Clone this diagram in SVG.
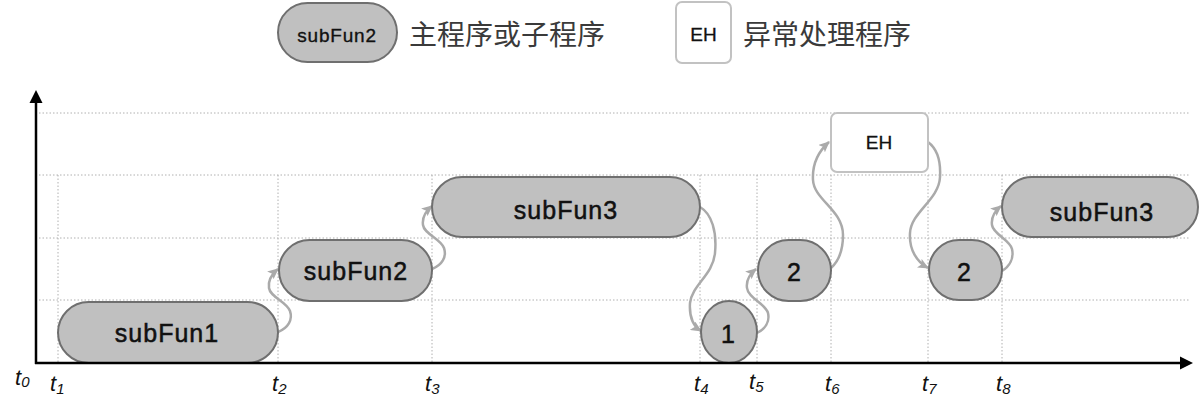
<svg xmlns="http://www.w3.org/2000/svg" width="1200" height="407" viewBox="0 0 1200 407">
<defs>
<style>
.grid{stroke:#b0b0b0;stroke-width:1;stroke-dasharray:1.5 2;fill:none}
.axis{stroke:#000;stroke-width:2.5;fill:none}
.node{fill:#c0c0c0;stroke:#6f6f6f;stroke-width:2}
.eh{fill:#fff;stroke:#c2c2c2;stroke-width:2}
.lbl{font-family:"Liberation Sans",Arial,sans-serif;font-size:25px;fill:#111;stroke:#111;stroke-width:0.5;text-anchor:middle;letter-spacing:1px}
.eht{font-family:"Liberation Sans",Arial,sans-serif;font-size:19px;fill:#111;stroke:#111;stroke-width:0.3;text-anchor:middle}
.cjk{font-family:"Noto Sans CJK SC","Noto Sans",sans-serif;font-size:28px;fill:#3a3a3a}
.t{font-family:"Liberation Sans",Arial,sans-serif;font-style:italic;font-size:22px;fill:#111}
.sub{font-size:15px}
.conn{stroke:#aaaaaa;stroke-width:2.5;fill:none;marker-end:url(#ah)}
</style>
<marker id="ah" markerWidth="12" markerHeight="10" refX="10" refY="5" orient="auto" markerUnits="userSpaceOnUse">
<path d="M0,0 L11,5 L0,10 L2.5,5 z" fill="#aaaaaa"/>
</marker>
</defs>

<g id="legend">
<g id="legend-main">
<rect class="node" x="278" y="3" width="119" height="59" rx="29.5"/>
<text class="lbl" x="337" y="42" style="font-size:19px;letter-spacing:0.8px;stroke-width:0.35">subFun2</text>
<text class="cjk" x="409" y="45">主程序或子程序</text>
</g>
<g id="legend-eh">
<rect class="eh" x="676" y="2" width="55" height="61" rx="6"/>
<text class="eht" x="703.5" y="41">EH</text>
<text class="cjk" x="743" y="45">异常处理程序</text>
</g>
</g>

<g id="grid">
<line class="grid" x1="39" y1="113" x2="1190" y2="113"/>
<line class="grid" x1="39" y1="175" x2="1190" y2="175"/>
<line class="grid" x1="39" y1="238" x2="1190" y2="238"/>
<line class="grid" x1="39" y1="300" x2="1190" y2="300"/>
<line class="grid" x1="58" y1="175" x2="58" y2="363"/>
<line class="grid" x1="278" y1="175" x2="278" y2="363"/>
<line class="grid" x1="432" y1="175" x2="432" y2="363"/>
<line class="grid" x1="700" y1="175" x2="700" y2="363"/>
<line class="grid" x1="757" y1="175" x2="757" y2="363"/>
<line class="grid" x1="831" y1="175" x2="831" y2="363"/>
<line class="grid" x1="928" y1="175" x2="928" y2="363"/>
<line class="grid" x1="1002" y1="175" x2="1002" y2="363"/>
</g>

<g id="connectors">
<path class="conn" d="M278,332 C288,328 293,320 290,311 C287,302 270,297 269,288 C268,281 272,274 278,269"/>
<path class="conn" d="M432,269 C442,265 447,257 444,248 C441,239 424,234 423,225 C422,218 426,211 432,206"/>
<path class="conn" d="M700,207 C712,214 717,232 715,253 C713,275 692,285 690,303 C689,318 693,326 701,331"/>
<path class="conn" d="M757,333 C765,329 770,322 768,313 C766,304 748,298 747,288 C746,281 750,274 756,269"/>
<path class="conn" d="M831,268 C840,260 843,248 843,235 C843,210 814,200 813,180 C812,162 820,150 829,142"/>
<path class="conn" d="M928,142 C936,148 941,160 940,177 C939,200 911,212 910,233 C909,250 917,262 928,268"/>
<path class="conn" d="M1002,271 C1010,266 1014,258 1012,249 C1010,240 993,234 992,225 C991,218 995,211 1001,206"/>
</g>

<g id="subFun1">
<rect class="node" x="58" y="302" width="220" height="61" rx="30.5"/>
<text class="lbl" x="167" y="342">subFun1</text>
</g>
<g id="subFun2">
<rect class="node" x="279" y="240" width="153" height="61" rx="30.5"/>
<text class="lbl" x="356" y="280">subFun2</text>
</g>
<g id="subFun3a">
<rect class="node" x="432" y="177" width="268" height="60" rx="30"/>
<text class="lbl" x="566" y="219">subFun3</text>
</g>
<g id="n1">
<rect class="node" x="701" y="301" width="56" height="62" rx="28" ry="31"/>
<text class="lbl" x="728" y="343" style="letter-spacing:0">1</text>
</g>
<g id="n2a">
<rect class="node" x="758" y="240" width="73" height="61" rx="30.5"/>
<text class="lbl" x="794" y="281" style="letter-spacing:0">2</text>
</g>
<g id="eh">
<rect class="eh" x="831" y="113" width="97" height="59" rx="6"/>
<text class="eht" x="879" y="149">EH</text>
</g>
<g id="n2b">
<rect class="node" x="929" y="240" width="73" height="60" rx="30"/>
<text class="lbl" x="964" y="281" style="letter-spacing:0">2</text>
</g>
<g id="subFun3b">
<rect class="node" x="1002" y="177" width="196" height="60" rx="30"/>
<text class="lbl" x="1102" y="221">subFun3</text>
</g>

<g id="axes">
<line class="axis" x1="36" y1="364" x2="36" y2="102"/>
<path d="M36,90 L42.5,103 L29.5,103 z" fill="#000"/>
<line class="axis" x1="35" y1="363" x2="1182" y2="363"/>
<path d="M1193,363 L1180,356.5 L1180,369.5 z" fill="#000"/>
</g>

<g id="tlabels">
<text class="t" x="15" y="385">t<tspan class="sub" dy="2">0</tspan></text>
<text class="t" x="50" y="391">t<tspan class="sub" dy="3">1</tspan></text>
<text class="t" x="272" y="391">t<tspan class="sub" dy="3">2</tspan></text>
<text class="t" x="425" y="391">t<tspan class="sub" dy="3">3</tspan></text>
<text class="t" x="694" y="391">t<tspan class="sub" dy="3">4</tspan></text>
<text class="t" x="749" y="389">t<tspan class="sub" dy="3">5</tspan></text>
<text class="t" x="825" y="391">t<tspan class="sub" dy="3">6</tspan></text>
<text class="t" x="922" y="391">t<tspan class="sub" dy="3">7</tspan></text>
<text class="t" x="996" y="391">t<tspan class="sub" dy="3">8</tspan></text>
</g>
</svg>
